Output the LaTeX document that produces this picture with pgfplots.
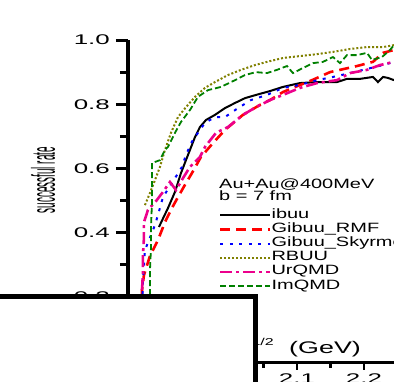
\documentclass[border=0pt]{standalone}
\usepackage{fontspec}
\setmainfont{Liberation Sans}
\newfontfamily\tickfont[FakeStretch=1.85]{Liberation Sans}
\newfontfamily\legfont[FakeStretch=1.48]{Liberation Sans}
\newfontfamily\labfont[FakeStretch=1.6]{Liberation Sans}
\usepackage{graphicx}
\usepackage{pgfplots}
\pgfplotsset{compat=1.18}
\definecolor{olv}{RGB}{128,128,0}
\definecolor{grn}{RGB}{0,128,0}
\begin{document}
\begin{tikzpicture}
\begin{axis}[
  at={(128pt,-297pt)}, anchor=south west,
  scale only axis, width=266pt, height=257pt,
  xmin=1.8478, xmax=2.2448, ymin=0.2, ymax=1.0,
  axis x line=none, axis y line*=left,
  axis line style={line width=3.5pt},
  ytick={0.2,0.4,0.6,0.8,1.0}, minor y tick num=1,
  tick align=outside, major tick length=12pt, minor tick length=8pt,
  every tick/.style={black, line width=3pt},
  /pgf/number format/.cd, fixed, precision=1, zerofill, assume math mode=true,
  /pgfplots/.cd,
  yticklabel style={font=\tickfont\fontsize{14}{14}\selectfont, inner sep=0pt, xshift=-6pt},
  ylabel={\scalebox{0.30}[1]{\fontsize{33}{33}\selectfont successful rate}},
  ylabel style={at={(axis description cs:-0.3195,0.455)}, anchor=center},
  legend style={draw=none, fill=none, inner sep=0pt, outer sep=0pt,
    at={(axis description cs:0.342,0.346)}, anchor=north west,
    font=\legfont\fontsize{13.5}{14}\selectfont,
    nodes={inner sep=0pt, text height=10pt, text depth=4.2pt},
    /tikz/every even column/.append style={column sep=6pt}},
  legend cell align=left,
  legend image code/.code={\draw[#1] (0pt,0pt) -- (50pt,0pt);},
]
\addplot[black, line width=2pt] coordinates {
(1.8940,0.418)(1.9075,0.477)(1.9179,0.527)(1.9269,0.586)(1.9299,0.602)(1.9343,0.626)
(1.9403,0.658)(1.9478,0.698)(1.9552,0.729)(1.9642,0.751)(1.9776,0.767)(1.9925,0.788)
(2.0075,0.804)(2.0224,0.819)(2.0388,0.829)(2.0597,0.841)(2.0791,0.854)(2.1045,0.866)
(2.1299,0.869)(2.1597,0.869)(2.1746,0.879)(2.1940,0.879)(2.2134,0.885)(2.2209,0.869)
(2.2284,0.885)(2.2358,0.882)(2.2448,0.875)};
\addlegendentry{ibuu}
\addplot[red, line width=2.6pt, dash pattern=on 10pt off 6pt] coordinates {
(1.8680,0.150)(1.8687,0.222)(1.8716,0.268)(1.8806,0.328)(1.8925,0.377)(1.9030,0.433)
(1.9134,0.477)(1.9224,0.511)(1.9328,0.549)(1.9433,0.586)(1.9567,0.636)(1.9746,0.679)
(1.9925,0.720)(2.0194,0.767)(2.0448,0.798)(2.0597,0.813)(2.0791,0.838)(2.0940,0.851)
(2.1224,0.875)(2.1493,0.900)(2.1896,0.919)(2.2134,0.932)(2.2284,0.960)(2.2448,0.969)};
\addlegendentry{Gibuu\_RMF}
\addplot[blue, line width=2pt, dash pattern=on 3pt off 6.5pt] coordinates {
(1.8690,0.150)(1.8701,0.250)(1.8731,0.346)(1.8881,0.424)(1.8955,0.477)(1.9000,0.511)
(1.9134,0.555)(1.9284,0.605)(1.9328,0.633)(1.9418,0.679)(1.9522,0.711)(1.9627,0.742)
(1.9776,0.760)(1.9925,0.760)(2.0119,0.788)(2.0313,0.813)(2.0552,0.829)(2.0791,0.851)
(2.1045,0.860)(2.1299,0.875)(2.1537,0.885)(2.1791,0.897)(2.2045,0.910)(2.2284,0.922)
(2.2448,0.932)};
\addlegendentry{Gibuu\_Skyrme}
\addplot[olv, line width=2pt, dash pattern=on 2pt off 2pt] coordinates {
(1.8731,0.486)(1.8806,0.524)(1.8881,0.564)(1.8955,0.605)(1.9030,0.658)(1.9119,0.711)
(1.9224,0.760)(1.9343,0.791)(1.9478,0.823)(1.9627,0.851)(1.9776,0.869)(1.9970,0.891)
(2.0164,0.907)(2.0373,0.922)(2.0552,0.932)(2.0791,0.944)(2.1045,0.950)(2.1299,0.956)
(2.1537,0.963)(2.1791,0.972)(2.2045,0.978)(2.2284,0.978)(2.2448,0.984)};
\addlegendentry{RBUU}
\addplot[magenta, line width=2.6pt, dash pattern=on 12pt off 4pt on 3pt off 4pt] coordinates {
(1.8680,0.150)(1.8687,0.222)(1.8701,0.275)(1.8701,0.331)(1.8716,0.384)(1.8716,0.433)
(1.8776,0.471)(1.8910,0.502)(1.9000,0.527)(1.9104,0.558)(1.9194,0.533)(1.9299,0.570)
(1.9403,0.605)(1.9552,0.636)(1.9627,0.667)(1.9791,0.711)(1.9970,0.729)(2.0194,0.767)
(2.0388,0.791)(2.0597,0.813)(2.0791,0.829)(2.1045,0.851)(2.1299,0.866)(2.1597,0.875)
(2.1791,0.897)(2.2045,0.907)(2.2239,0.922)(2.2448,0.932)};
\addlegendentry{UrQMD}
\addplot[grn, line width=1.8pt, dash pattern=on 6pt off 3pt] coordinates {
(1.8806,0.150)(1.8806,0.284)(1.8821,0.353)(1.8821,0.418)(1.8836,0.493)(1.8836,0.564)
(1.8836,0.617)(1.8955,0.626)(1.9030,0.658)(1.9075,0.667)(1.9179,0.711)(1.9269,0.745)
(1.9403,0.782)(1.9522,0.823)(1.9672,0.844)(1.9866,0.854)(2.0075,0.875)(2.0224,0.891)
(2.0388,0.900)(2.0552,0.897)(2.0701,0.907)(2.0851,0.919)(2.0940,0.897)(2.1090,0.913)
(2.1239,0.928)(2.1388,0.932)(2.1537,0.947)(2.1642,0.928)(2.1746,0.953)(2.1896,0.953)
(2.2045,0.960)(2.2119,0.938)(2.2269,0.947)(2.2388,0.969)(2.2448,0.984)};
\addlegendentry{ImQMD}
\end{axis}
\begin{axis}[
  at={(128pt,-363pt)}, anchor=south west,
  scale only axis, width=266pt, height=10pt,
  xmin=1.8478, xmax=2.2448, ymin=0, ymax=1,
  axis x line*=bottom, axis y line=none,
  axis line style={line width=3pt},
  xtick={1.9,2.0,2.1,2.2}, minor x tick num=1,
  tick align=outside, major tick length=7pt, minor tick length=5pt,
  every tick/.style={black, line width=2.5pt},
  /pgf/number format/.cd, fixed, precision=1, zerofill, assume math mode=true,
  /pgfplots/.cd,
  xticklabel style={font=\tickfont\fontsize{14}{14}\selectfont, inner sep=0pt, yshift=-4pt},
]
\addplot[draw=none] coordinates {(2.0,0.5)};
\end{axis}
\node[anchor=base east, inner sep=0pt] at (274pt,-345pt) {\labfont\fontsize{10}{10}\selectfont s 1/2};
\node[anchor=base west, inner sep=0pt] at (289pt,-353pt) {\labfont\fontsize{16.8}{17}\selectfont (GeV)};
\node[anchor=base west, inner sep=0pt] at (219pt,-189pt) {\legfont\fontsize{13.5}{14}\selectfont Au+Au@400MeV};
\node[anchor=base west, inner sep=0pt] at (219pt,-201pt) {\legfont\fontsize{13.5}{14}\selectfont b = 7 fm};
\draw[line width=5pt, fill=white] (-10pt,-296.5pt) rectangle (255.5pt,-400pt);
\pgfresetboundingbox
\path[use as bounding box] (0pt,0pt) rectangle (394pt,-382pt);
\end{tikzpicture}
\end{document}
